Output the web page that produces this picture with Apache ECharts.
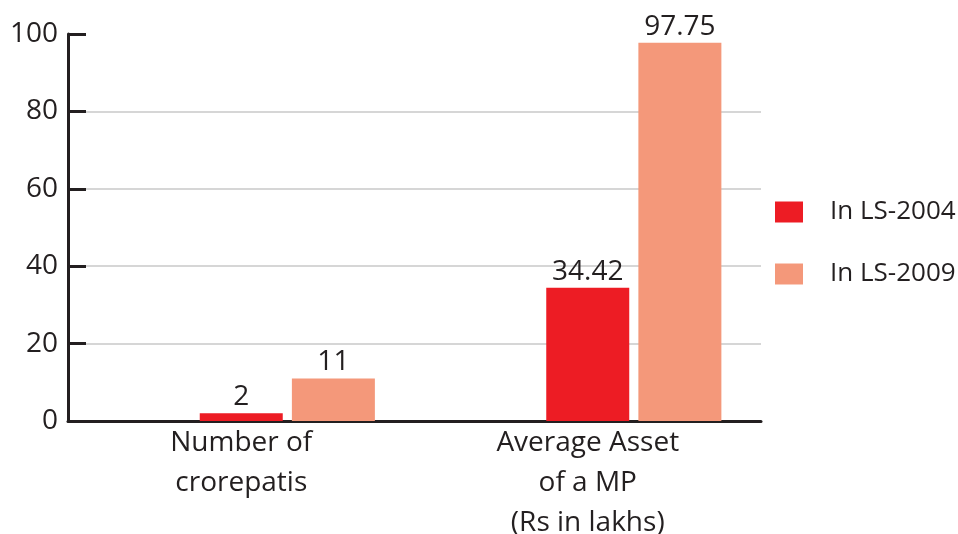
<!DOCTYPE html>
<html>
<head>
<meta charset="utf-8">
<script src="https://cdn.jsdelivr.net/npm/echarts@6/dist/echarts.min.js"></script>
<style>
    html, body { margin: 0; padding: 0; background: #fff; }
    #chart { width: 958px; height: 534px; }
</style>
</head>
<body>
<div id="chart"></div>
<script>
    var categories = ['Number of\ncrorepatis', 'Average Asset\nof a MP\n(Rs in lakhs)'];
    var ls2004 = [2, 34.42];
    var ls2009 = [11, 97.75];
    var spacer = ['-', '-']; // empty slot on the left of each group
    var yTicks = { min: 0, max: 100, interval: 20 };

    var font = '"Open Sans", "Noto Sans", sans-serif';
    var ink = '#231F20';

    var chart = echarts.init(document.getElementById('chart'));
    chart.setOption({
        animation: false,
        textStyle: { fontFamily: font },
        grid: { left: 68, right: 197, top: 34, bottom: 113, containLabel: false, outerBoundsMode: 'none' },
        legend: {
            orient: 'vertical',
            left: 770,
            top: 194,
            icon: 'rect',
            itemWidth: 28,
            itemHeight: 21,
            itemGap: 36,
            data: ['In LS-2004', 'In LS-2009'],
            textStyle: { fontSize: 26, color: ink, fontFamily: font, padding: [0, 0, 0, 22] }
        },
        xAxis: {
            type: 'category',
            data: categories,
            axisLine: { lineStyle: { color: ink, width: 3 } },
            axisTick: { inside: true, length: 8, lineStyle: { color: ink, width: 3 } },
            axisLabel: { fontSize: 28, color: ink, lineHeight: 40, margin: 2, fontFamily: font }
        },
        yAxis: {
            type: 'value',
            min: yTicks.min,
            max: yTicks.max,
            interval: yTicks.interval,
            axisLine: { show: true, lineStyle: { color: ink, width: 3 } },
            axisTick: { show: true, inside: true, length: 18, lineStyle: { color: ink, width: 3 } },
            axisLabel: { fontSize: 28, color: ink, margin: 10, fontFamily: font },
            splitLine: {
                show: true,
                lineStyle: {
                    color: ['rgba(0,0,0,0)', '#c8c8c8', '#c8c8c8', '#c8c8c8', '#c8c8c8', 'rgba(0,0,0,0)'],
                    width: 1.5
                }
            }
        },
        series: [
            {
                name: 'spacer',
                type: 'bar',
                data: spacer,
                barWidth: 83,
                barGap: '11%',
                silent: true
            },
            {
                name: 'In LS-2004',
                type: 'bar',
                data: ls2004,
                barWidth: 83,
                barGap: '11%',
                itemStyle: { color: '#ED1C24', borderRadius: 0 },
                label: { show: true, position: 'top', distance: 2, fontSize: 28, color: ink, fontFamily: font }
            },
            {
                name: 'In LS-2009',
                type: 'bar',
                data: ls2009,
                barWidth: 83,
                barGap: '11%',
                itemStyle: { color: '#F4987A', borderRadius: 0 },
                label: { show: true, position: 'top', distance: 2, fontSize: 28, color: ink, fontFamily: font }
            }
        ]
    });
</script>
</body>
</html>
